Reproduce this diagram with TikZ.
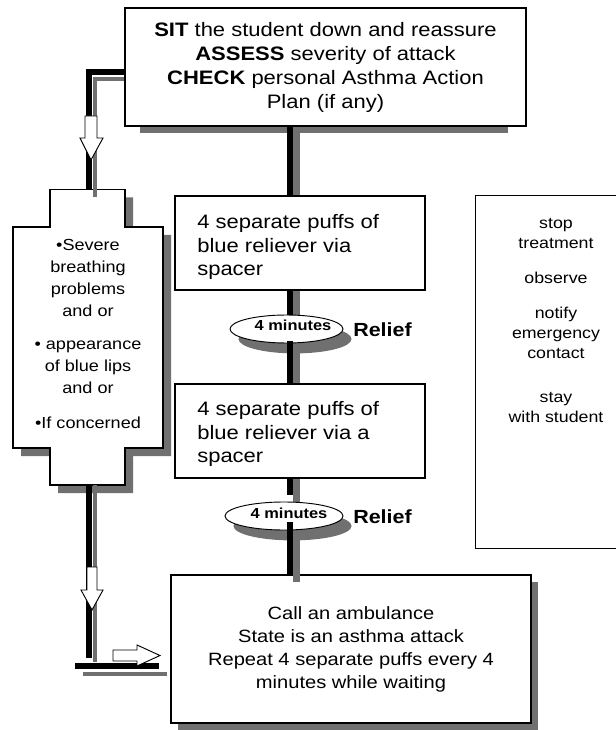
\documentclass[tikz,border=0pt]{standalone}
\usepackage{fontspec}
\setmainfont[FakeStretch=1.13]{Liberation Sans}
\usetikzlibrary{shapes.geometric}
\definecolor{shd}{RGB}{112,112,112}
\begin{document}
\begin{tikzpicture}[x=0.75pt,y=-0.75pt,
  box/.style={draw=black, line width=0.8pt, fill=white, inner sep=0pt},
  blk/.style={line width=4.5pt, black},
  gry/.style={line width=4.8pt, shd},
  gryn/.style={line width=3.4pt, shd},
  hollow/.style={draw=black, line width=0.7pt, fill=white, line join=miter},
  ell/.style={ellipse, draw=black, line width=0.7pt, fill=white, inner sep=0pt, minimum height=21pt},
  mintext/.style={font=\fontsize{10.9}{13}\selectfont\bfseries, inner sep=0pt},
  relief/.style={font=\fontsize{14.25}{17}\selectfont\bfseries, inner sep=0pt, anchor=west},
  ptext/.style={font=\fontsize{14.6}{17.6}\selectfont, align=left, anchor=west, inner sep=0pt},
]
\useasboundingbox (0,0) rectangle (615,730);
% ---- shadows
\fill[shd] (140,126) rectangle (508,133);
\fill[shd] (58,197.5) -- (133,197.5) -- (133,235) -- (171,235) -- (171,456) -- (133,456)
  -- (133,493) -- (58,493) -- (58,456) -- (21,456) -- (21,235) -- (58,235) -- cycle;
\fill[shd] (178,582) rectangle (538,730);
% ---- boxes
\node[box, minimum width=300.75pt, minimum height=88.5pt, align=center,
  font=\fontsize{14.6}{18}\selectfont] (top) at (325.5,67)
  {\textbf{SIT} the student down and reassure\\
   \textbf{ASSESS} severity of attack\\
   \textbf{CHECK} personal Asthma Action\\
   Plan (if any)};
\draw[line width=0.8pt, fill=white] (50,189.5) -- (125,189.5) -- (125,227) -- (163,227) -- (163,448)
  -- (125,448) -- (125,485) -- (50,485) -- (50,448) -- (13,448) -- (13,227) -- (50,227) -- cycle;
\coordinate (sevtop) at (88.5,189.5);
\coordinate (sevbot) at (88.5,485);
\node[box, minimum width=187.5pt, minimum height=70.5pt] (p1) at (300,243) {};
\node[box, minimum width=187.5pt, minimum height=70.5pt] (p2) at (300,431) {};
\node[box, minimum width=270pt, minimum height=111pt, align=center,
  font=\fontsize{13.35}{17.25}\selectfont] (amb) at (351,649)
  {Call an ambulance\\ State is an asthma attack\\ Repeat 4 separate puffs every 4\\ minutes while waiting};
\node[box, minimum width=109.5pt, minimum height=264.75pt, anchor=north west] (rb) at (475,195) {};
% ---- gray connector lines
\coordinate (cb) at (290,0);
\coordinate (cg) at (296.5,0);
\draw[gry] (top.south -| cg) -- (p1.north -| cg);
\draw[gry] (p1.south -| cg) -- (p2.north -| cg);
\draw[gry] (p2.south -| cg) -- ([yshift=-6pt]amb.north -| cg);
\draw[gryn] (top.west |- 0,79) -- (95,79) -- ([yshift=-6pt]sevtop -| 95,0);
\draw[gryn] (sevbot -| 95,0) -- (95,662);
% ---- ellipses (shadow first, then white ellipse on top)
\fill[shd] (295,339) ellipse [x radius=42.4pt, y radius=10.8pt];
\node[ell, minimum width=84.75pt] (e1) at (286.5,329) {};
\fill[shd] (292.5,526) ellipse [x radius=44.3pt, y radius=10.8pt];
\node[ell, minimum width=88.5pt] (e2) at (284,516) {};
\node[mintext] (m1) at (293,325) {4 minutes};
\node[mintext] (m2) at (289,513) {4 minutes};
\node[relief] (r1) at (353,330) {Relief};
\node[relief] (r2) at (353,517) {Relief};
% ---- black connector lines
\draw[blk] (top.south -| cb) -- (p1.north -| cb);
\draw[blk] (p1.south -| cb) -- (e1.north -| cb);
\draw[blk] ([yshift=1.5pt]e1.south -| cb) -- (p2.north -| cb);
\draw[blk] (p2.south -| cb) -- (cb |- 0,495);
\draw[blk] (cb |- 0,522) -- ([yshift=-1pt]amb.north -| cb);
\draw[blk, line cap=butt] (top.west |- 0,72) -- (88.5,72) -- (sevtop);
\draw[blk] (sevbot) -- (88.5,658);
\coordinate (barL) at (75,666);
\coordinate (barR) at (159,666);
\draw[gryn] (83,674) -- (167,674);
\draw[blk] (barL) -- (barR);
% ---- hollow arrows
\draw[hollow] (85,116) -- (97,116) -- (97,138) -- (103,138) -- (91,160) -- (80,138) -- (85,138) -- cycle;
\draw[hollow] (87,567) -- (97,567) -- (97,590) -- (103,590) -- (92,610) -- (81,590) -- (87,590) -- cycle;
\draw[hollow] (113,650) -- (137,650) -- (137,645) -- (160,655.5) -- (137,666) -- (137,661) -- (113,661) -- cycle;
% ---- texts
\node[ptext] (p1t) at (197,247) {4 separate puffs of\\ blue reliever via\\ spacer};
\node[ptext] (p2t) at (197,434) {4 separate puffs of\\ blue reliever via a\\ spacer};
\node[align=center, inner sep=0pt, font=\fontsize{12}{16.5}\selectfont] (sev) at (88,334)
  {•Severe\\ breathing\\ problems\\ and or\\[8.25pt] • appearance\\ of blue lips\\ and or\\[9.75pt] •If concerned};
\node[align=center, inner sep=0pt, font=\fontsize{11.8}{15}\selectfont] (rbt) at (556,320)
  {stop\\ treatment\\[11.25pt] observe\\[11.25pt] notify\\ emergency\\ contact\\[18pt] stay\\ with student};
\end{tikzpicture}
\end{document}
